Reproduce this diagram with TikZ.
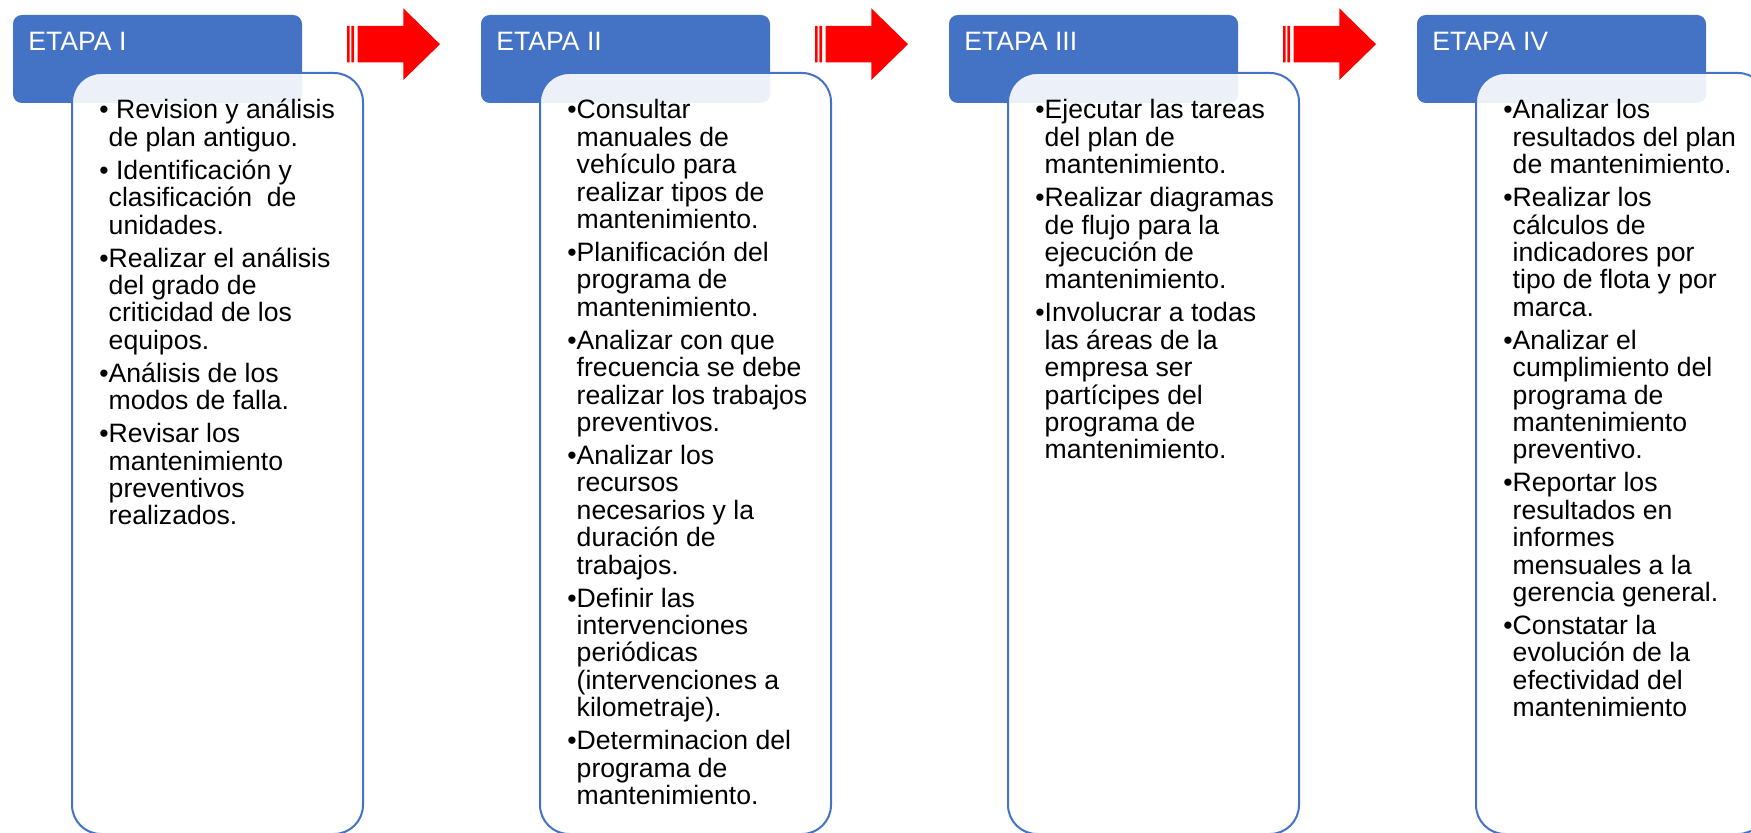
\documentclass[tikz,border=0pt]{standalone}
\usepackage{fontspec}
\setmainfont{Liberation Sans}
\usepackage{tikz}
\usetikzlibrary{positioning}
\definecolor{azul}{HTML}{4472C4}
\definecolor{rojo}{HTML}{FF0000}
\tikzstyle{etapa} = [anchor=north west, fill=azul, rounded corners=4.4pt, minimum width=144.5pt, minimum height=44pt, inner sep=0pt, outer sep=0pt]
\tikzstyle{titulo} = [anchor=base west, text=white, inner sep=0pt, font=\fontsize{13.3}{13.7}\selectfont]
\tikzstyle{caja} = [anchor=north west, draw=azul, line width=1pt, fill=white, fill opacity=0.9, rounded corners=14.5pt, minimum width=145.5pt, minimum height=380.5pt, inner sep=0pt, outer sep=0pt]
\tikzstyle{lista} = [anchor=base west, inner sep=0pt, font=\fontsize{13.3}{13.7}\selectfont]
\tikzstyle{flecha} = [fill=rojo]
\newcommand{\sigue}{\\\phantom{•}}
\newcommand{\punto}{\\[2.8pt]•}
\newcommand{\pasos}[1]{\parbox[t]{160pt}{#1}}

\begin{document}
\begin{tikzpicture}[x=0.5pt, y=-0.5pt]
\clip (0,0) rectangle (1751,833);

% Etapas
\node[etapa] (h1) at (13,15) {};
\node[etapa] (h2) at (481,15) {};
\node[etapa] (h3) at (949,15) {};
\node[etapa] (h4) at (1417,15) {};

\node[titulo] (t1) at ([xshift=7.5pt,yshift=-18pt]h1.north west) {ETAPA I};
\node[titulo] (t2) at ([xshift=7.5pt,yshift=-18pt]h2.north west) {ETAPA II};
\node[titulo] (t3) at ([xshift=7.5pt,yshift=-18pt]h3.north west) {ETAPA III};
\node[titulo] (t4) at ([xshift=7.5pt,yshift=-18pt]h4.north west) {ETAPA IV};

% Cajas
\node[caja] (c1) at ([xshift=29.5pt,yshift=-29pt]h1.north west) {};
\node[caja] (c2) at ([xshift=29.5pt,yshift=-29pt]h2.north west) {};
\node[caja] (c3) at ([xshift=29.5pt,yshift=-29pt]h3.north west) {};
\node[caja] (c4) at ([xshift=29.5pt,yshift=-29pt]h4.north west) {};

% Flechas
\fill[flecha, shift={(347,0)}] (0,26) rectangle (2.6,62.3) (4.3,26) rectangle (7,62.3)
  (10.7,26) -- (56.3,26) -- (56.3,8.3) -- (93,44.2) -- (56.3,80) -- (56.3,62.3) -- (10.7,62.3) -- cycle;
\fill[flecha, shift={(815,0)}] (0,26) rectangle (2.6,62.3) (4.3,26) rectangle (7,62.3)
  (10.7,26) -- (56.3,26) -- (56.3,8.3) -- (93,44.2) -- (56.3,80) -- (56.3,62.3) -- (10.7,62.3) -- cycle;
\fill[flecha, shift={(1283,0)}] (0,26) rectangle (2.6,62.3) (4.3,26) rectangle (7,62.3)
  (10.7,26) -- (56.3,26) -- (56.3,8.3) -- (93,44.2) -- (56.3,80) -- (56.3,62.3) -- (10.7,62.3) -- cycle;

% Listas
\node[lista] (l1) at ([xshift=13.5pt,yshift=-23pt]c1.north west) {\pasos{• Revision y análisis\sigue de plan antiguo.\punto\ Identificación y\sigue clasificación\ \ de\sigue unidades.\punto Realizar el análisis\sigue del grado de\sigue criticidad de los\sigue equipos.\punto Análisis de los\sigue modos de falla.\punto Revisar los\sigue mantenimiento\sigue preventivos\sigue realizados.}};
\node[lista] (l2) at ([xshift=13.5pt,yshift=-23pt]c2.north west) {\pasos{•Consultar\sigue manuales de\sigue vehículo para\sigue realizar tipos de\sigue mantenimiento.\punto Planificación del\sigue programa de\sigue mantenimiento.\punto Analizar con que\sigue frecuencia se debe\sigue realizar los trabajos\sigue preventivos.\punto Analizar los\sigue recursos\sigue necesarios y la\sigue duración de\sigue trabajos.\punto Definir las\sigue intervenciones\sigue periódicas\sigue (intervenciones a\sigue kilometraje).\punto Determinacion del\sigue programa de\sigue mantenimiento.}};
\node[lista] (l3) at ([xshift=13.5pt,yshift=-23pt]c3.north west) {\pasos{•Ejecutar las tareas\sigue del plan de\sigue mantenimiento.\punto Realizar diagramas\sigue de flujo para la\sigue ejecución de\sigue mantenimiento.\punto Involucrar a todas\sigue las áreas de la\sigue empresa ser\sigue partícipes del\sigue programa de\sigue mantenimiento.}};
\node[lista] (l4) at ([xshift=13.5pt,yshift=-23pt]c4.north west) {\pasos{•Analizar los\sigue resultados del plan\sigue de mantenimiento.\punto Realizar los\sigue cálculos de\sigue indicadores por\sigue tipo de flota y por\sigue marca.\punto Analizar el\sigue cumplimiento del\sigue programa de\sigue mantenimiento\sigue preventivo.\punto Reportar los\sigue resultados en\sigue informes\sigue mensuales a la\sigue gerencia general.\punto Constatar la\sigue evolución de la\sigue efectividad del\sigue mantenimiento}};

\end{tikzpicture}
\end{document}
